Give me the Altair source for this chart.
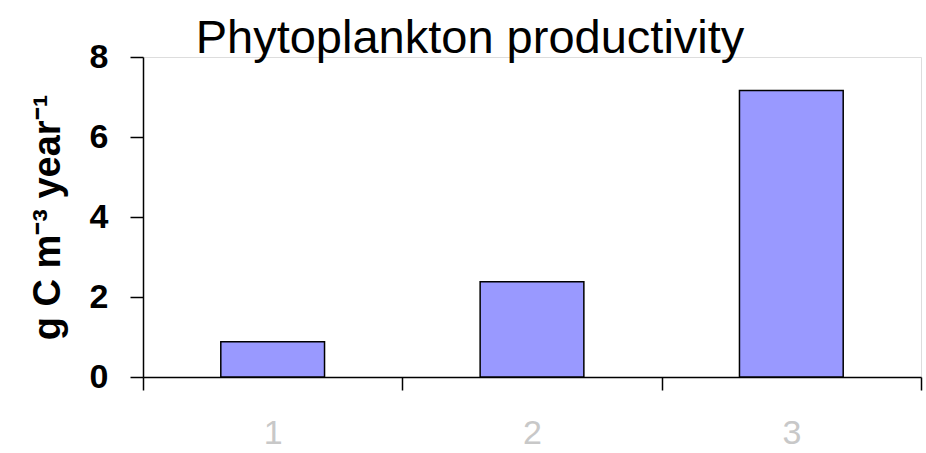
import altair as alt
import pandas as pd

# Sampling sites and their annual phytoplankton productivity
sites = ["1", "2", "3"]
productivity = [0.88, 2.38, 7.16]

df = pd.DataFrame({"site": sites, "productivity": productivity})

FONT = "Liberation Sans"

bars = alt.Chart(df).mark_bar(
    color="#9999FF",
    stroke="black",
    strokeWidth=1.5,
    width=alt.RelativeBandSize(0.4),
).encode(
    x=alt.X(
        "site:N",
        sort=sites,
        scale=alt.Scale(paddingInner=0, paddingOuter=0),
        axis=alt.Axis(
            title=None,
            labelAngle=0,
            labelFont=FONT,
            labelFontSize=34,
            labelColor="#c8c8c8",
            labelPadding=26,
            tickBand="extent",
            tickSize=13,
            tickColor="black",
            tickWidth=1.5,
            domainColor="black",
            domainWidth=1.5,
        ),
    ),
    y=alt.Y(
        "productivity:Q",
        scale=alt.Scale(domain=[0, 8], nice=False),
        axis=alt.Axis(
            title="g C m⁻³ year⁻¹",
            titleFont=FONT,
            titleFontSize=38,
            titleFontWeight="bold",
            titleColor="black",
            titlePadding=22,
            values=[0, 2, 4, 6, 8],
            format="d",
            labelFont=FONT,
            labelFontSize=34,
            labelFontWeight="bold",
            labelColor="black",
            labelPadding=22,
            tickSize=13,
            tickColor="black",
            tickWidth=1.5,
            domainColor="black",
            domainWidth=1.5,
            grid=False,
        ),
    ),
)

chart = bars.properties(
    width=778,
    height=320,
    autosize=alt.AutoSizeParams(type="none"),
    padding={"left": 143, "top": 57, "right": 5, "bottom": 76},
    title=alt.TitleParams(
        "Phytoplankton productivity",
        font=FONT,
        fontSize=47,
        fontWeight="normal",
        color="black",
        anchor="middle",
        frame="group",
        dx=-62,
        offset=-23,
    ),
).configure_view(stroke=None).configure(background="white")

chart.save("out.html", embed_options={"renderer": "svg", "actions": False})
